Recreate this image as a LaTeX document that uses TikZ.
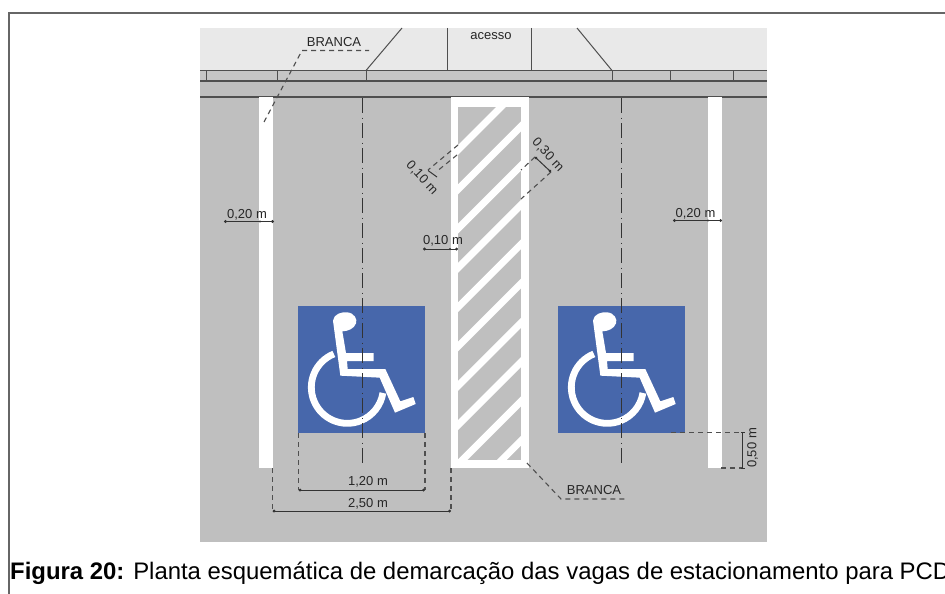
\documentclass[tikz,border=0pt]{standalone}
\usepackage{fontspec}
\setmainfont{Liberation Sans}
\usetikzlibrary{arrows.meta}
\definecolor{pavegray}{HTML}{BFBFBF}
\definecolor{toplight}{HTML}{E9E9E9}
\definecolor{curbgray}{HTML}{C6C6C6}
\definecolor{planline}{HTML}{4F4F4F}
\definecolor{signblue}{HTML}{4767AB}
\tikzset{
  planedge/.style={draw=planline,line width=1.2pt},
  thinedge/.style={draw=planline,line width=1pt},
  leader/.style={draw=planline,line width=1.1pt,dash pattern=on 5pt off 4pt},
  dimline/.style={draw=black!80,line width=1pt,{Circle[length=2.8pt]}-{Circle[length=2.8pt]}},
  axisline/.style={draw=black!80,line width=1pt,dash pattern=on 15pt off 4.5pt on 1pt off 4.5pt},
  dimtext/.style={font=\fontsize{13}{15}\selectfont,text=black!85,inner sep=0pt},
  whitepaint/.style={fill=white,draw=none},
  framerule/.style={draw=black!60,line width=1.2pt}
}
\newcommand{\wheelsign}[1]{%
  \fill[signblue] (#1,306) rectangle (#1+127,433);
  \begin{scope}[shift={(#1-298+260,290)},x=0.33333pt,y=-0.33333pt]
    \draw[white,line width=6.8pt] (262,292) ++(248:108) arc[start angle=248,end angle=9,radius=108];
    \fill[white] (219,92) .. controls (221,72) and (245,65) .. (262,67)
      .. controls (283,69) and (293,88) .. (288,100)
      .. controls (283,116) and (263,124) .. (247,124)
      -- (258,189) -- (341,189) -- (341,213) -- (261,213) -- (263,237)
      -- (376,237) -- (421,334) -- (460,321) -- (467,342) -- (405,368)
      -- (359,263) -- (241,257) -- cycle;
  \end{scope}}
\begin{document}
\begin{tikzpicture}[x=1pt,y=-1pt]
\useasboundingbox (0,0) rectangle (945,594);
\fill[white] (0,0) rectangle (945,594);
% frame
\draw[framerule] (9,594) -- (9,13) -- (945,13);
% ground
\fill[pavegray] (200,28) rectangle (767,542);
\fill[toplight] (200,28) rectangle (767,70.5);
\fill[curbgray] (200,70.5) rectangle (767,81);
\draw[planedge] (200,70.5) -- (767,70.5);
\draw[planedge] (200,81) -- (767,81);
\draw[planedge] (200,97) -- (767,97);
\foreach \x in {206,277,366,612,670,733} \draw[thinedge] (\x,70.5) -- (\x,81);
\draw[thinedge] (366,70.5) -- (402,28);
\draw[thinedge] (612,70.5) -- (577,28);
\draw[thinedge] (447,28) -- (447,70.5);
\draw[thinedge] (531,28) -- (531,70.5);
\node[dimtext] (acesso) at (491,36) {acesso};
% white bars
\fill[whitepaint] (259,97) rectangle (273,468);
\fill[whitepaint] (708,97) rectangle (722,468);
% hatched island
\fill[whitepaint] (451,97) rectangle (529,468);
\fill[pavegray] (458,107) rectangle (521,460);
\begin{scope}
  \clip (458,107) rectangle (521,460);
  \foreach \k in {0,...,9}
    \draw[white,line width=7pt] (448,{150+39.3*\k+10}) -- (531,{150+39.3*\k-73});
\end{scope}
% signs
\wheelsign{298}
\wheelsign{558}
% axes
\draw[axisline] (362,98) -- (362,467);
\draw[axisline] (621,98) -- (621,467);
% labels and leaders
\node[dimtext] (brancaA) at (334,42) {BRANCA};
\draw[leader] (264,122) -- (302,50.5) -- (369,50.5);
\node[dimtext] (brancaB) at (594,490.5) {BRANCA};
\draw[leader] (527,463) -- (561,499) -- (626,499);
% horizontal dims
\node[dimtext] (dimA) at (247,214.5) {0,20 m};
\draw[dimline] (224,221.5) -- (274,221.5);
\fill[black!80] (260,221.5) circle (1.1pt);
\node[dimtext] (dimB) at (695.5,214) {0,20 m};
\draw[dimline] (673,220.5) -- (722,220.5);
\fill[black!80] (708,220.5) circle (1.1pt);
\node[dimtext] (dimC) at (443,241) {0,10 m};
\draw[dimline] (423,249) -- (458,249);
\fill[black!80] (450,249) circle (1.1pt);
% diagonal 0,10
\draw[leader] (458,145) -- (428,170);
\draw[leader] (457,155) -- (436,172);
\draw[draw=black!80,line width=1pt] (428,170.5) -- (437,177);
\node[dimtext,rotate=-47] (dimD) at (422,178) {0,10 m};
% diagonal 0,30
\draw[leader] (535,157) -- (521,170);
\draw[leader] (551,172) -- (521,199);
\draw[dimline] (535,157) -- (551,172);
\node[dimtext,rotate=-47] (dimE) at (548,155) {0,30 m};
% bottom dims
\draw[leader] (298.7,433) -- (298.7,490);
\draw[leader] (425,433) -- (425,490);
\draw[dimline] (298.7,490) -- (425,490);
\node[dimtext] (dimF) at (368,482) {1,20 m};
\draw[leader] (272.7,468) -- (272.7,511);
\draw[leader] (451,468) -- (451,511);
\draw[dimline] (272.7,511) -- (451,511);
\node[dimtext] (dimG) at (368,504) {2,50 m};
% 0,50
\draw[leader] (671,432.5) -- (742,432.5);
\draw[leader] (721,468) -- (742,468);
\draw[draw=black!80,line width=1pt] (742.7,432.5) -- (742.7,468);
\draw[draw=black!80,line width=1pt] (741,432.5) -- (744.5,432.5);
\draw[draw=black!80,line width=1pt] (741,468) -- (744.5,468);
\node[dimtext,rotate=90] (dimH) at (752.7,448) {0,50 m};
% caption
\node[anchor=base west,inner sep=0pt,font=\fontsize{23.9}{28}\selectfont] (caption) at (10,579) {\textbf{Figura 20:} Planta esquemática de demarcação das vagas de estacionamento para PCD};
\end{tikzpicture}
\end{document}
